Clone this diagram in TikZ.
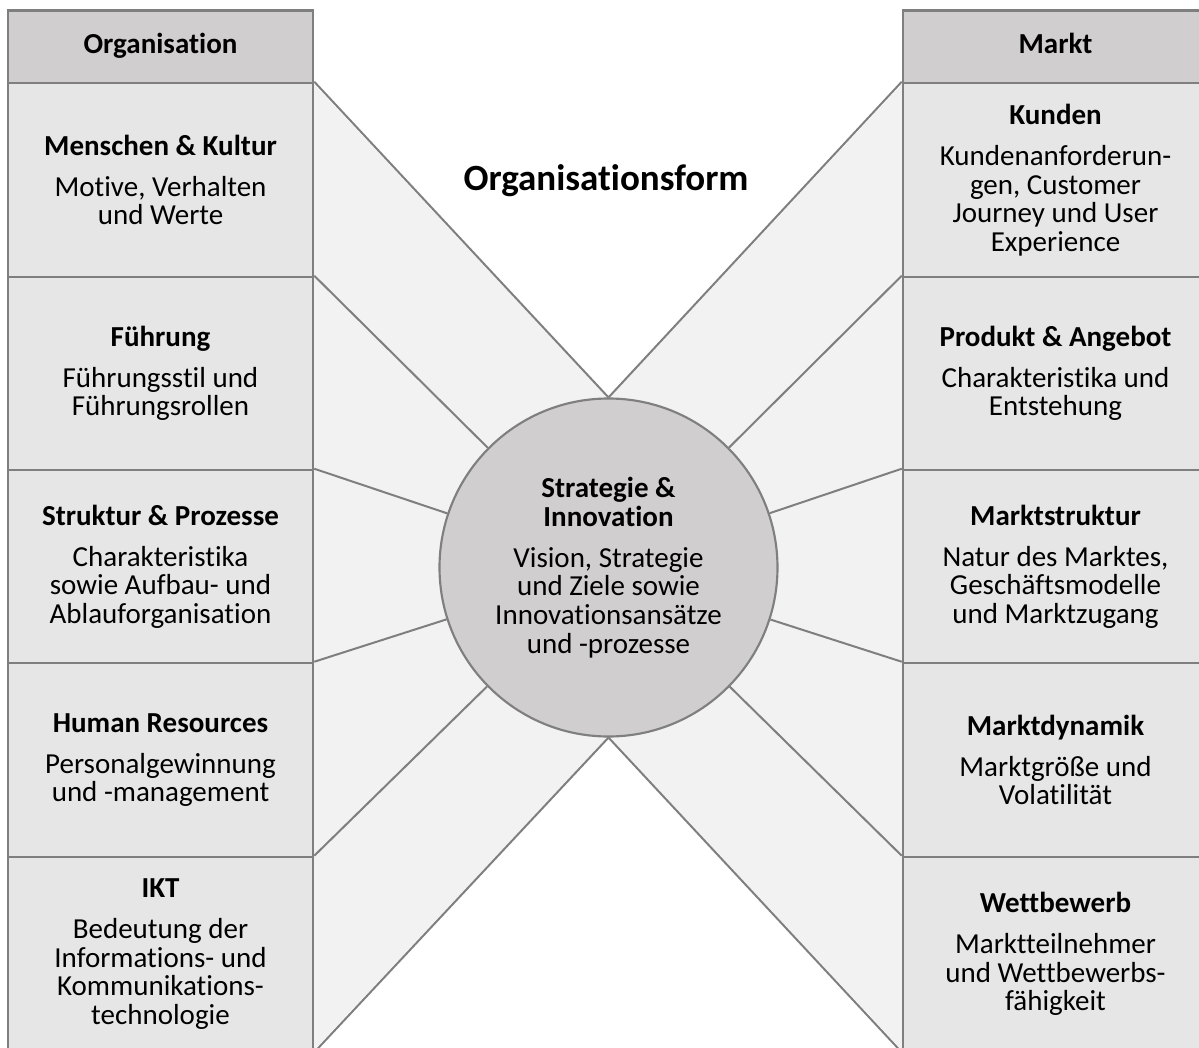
\documentclass[tikz,border=0pt]{standalone}
\usepackage{fontspec}
\setmainfont{Carlito}[Ligatures={NoCommon}]
\definecolor{linegray}{HTML}{7F7F7F}
\definecolor{hdrgray}{HTML}{D0CECE}
\definecolor{cellgray}{HTML}{E7E6E6}
\definecolor{fangray}{HTML}{F2F2F2}
\newcommand\cellhead[1]{\textbf{#1}\\[9.3pt]}
\begin{document}
\begin{tikzpicture}[x=0.75pt,y=-0.75pt,
  hdr/.style={rectangle, draw=linegray, line width=1.9pt, fill=hdrgray,
    minimum width=228.75pt, minimum height=54.375pt, inner sep=0pt,
    text height=17pt, text depth=7pt,
    font={\fontsize{21.75}{21.45}\selectfont\bfseries}},
  cell/.style={rectangle, draw=linegray, line width=1.9pt, fill=cellgray,
    minimum width=228.75pt, minimum height=145.5pt, inner sep=0pt,
    align=center, font={\fontsize{21.75}{21.45}\selectfont}},
  hub/.style={circle, draw=linegray, line width=1.6pt, fill=hdrgray,
    minimum size=253.5pt, inner sep=0pt, align=center,
    font={\fontsize{21.75}{21.45}\selectfont}},
  spoke/.style={draw=linegray, line width=1.5pt},
]
\path[use as bounding box] (0,0) rectangle (1199,1048);
\clip (0,0) rectangle (1199,1048);

% light fan area between the two columns
\fill[fangray] (313,83) -- (608.5,398.5) -- (903,83) -- (903,1051)
  -- (608.5,736.5) -- (313,1051) -- cycle;

% title
\node (title) at (606,181) {\fontsize{27.75}{30}\selectfont\bfseries Organisationsform};

% left column: Organisation
\node[hdr] (lh) at (160.5,46.75) {Organisation};
\node[cell] (l1) at (160.5,180) {\cellhead{Menschen \& Kultur}Motive, Verhalten\\und Werte};
\node[cell, minimum height=144.75pt] (l2) at (160.5,373.5) {\cellhead{Führung}Führungsstil und\\Führungsrollen};
\node[cell, minimum height=144.75pt] (l3) at (160.5,566.5) {\cellhead{Struktur \& Prozesse}Charakteristika\\sowie Aufbau- und\\Ablauforganisation};
\node[cell] (l4) at (160.5,760) {\cellhead{Human Resources}Personalgewinnung\\und -management};
\node[cell] (l5) at (160.5,954) {\cellhead{IKT}Bedeutung der\\Informations- und\\Kommunikations-\\technologie};

% right column: Markt
\node[hdr] (rh) at (1055.5,46.75) {Markt};
\node[cell] (r1) at (1055.5,180) {\cellhead{Kunden}Kundenanforderun-\\gen, Customer\\Journey und User\\Experience};
\node[cell, minimum height=144.75pt] (r2) at (1055.5,373.5) {\cellhead{Produkt \& Angebot}Charakteristika und\\Entstehung};
\node[cell, minimum height=144.75pt] (r3) at (1055.5,566.5) {\cellhead{Marktstruktur}Natur des Marktes,\\Geschäftsmodelle\\und Marktzugang};
\node[cell] (r4) at (1055.5,760) {\cellhead{Marktdynamik}Marktgröße und\\Volatilität};
\node[cell] (r5) at (1055.5,954) {\cellhead{Wettbewerb}Marktteilnehmer\\und Wettbewerbs-\\fähigkeit};

% central hub
\node[hub] (hub) at (608.5,567.5) {\textbf{Strategie \&}\\\cellhead{Innovation}Vision, Strategie\\und Ziele sowie\\Innovationsansätze\\und -prozesse};

% spokes from the column corners to the hub
\draw[spoke] (l1.north east) -- (hub.north);
\draw[spoke] (l2.north east) -- (hub);
\draw[spoke] (l3.north east) -- (hub);
\draw[spoke] (l4.north east) -- (hub);
\draw[spoke] (l5.north east) -- (hub);
\draw[spoke] (l5.south east) -- (hub.south);
\draw[spoke] (r1.north west) -- (hub.north);
\draw[spoke] (r2.north west) -- (hub);
\draw[spoke] (r3.north west) -- (hub);
\draw[spoke] (r4.north west) -- (hub);
\draw[spoke] (r5.north west) -- (hub);
\draw[spoke] (r5.south west) -- (hub.south);
\end{tikzpicture}
\end{document}
